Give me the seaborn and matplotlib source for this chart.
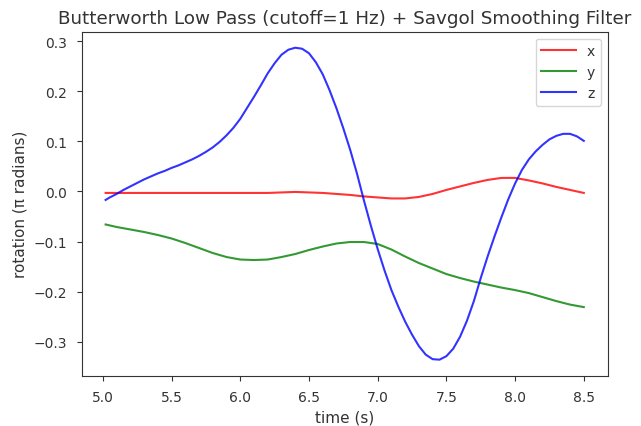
import numpy as np
import pandas as pd
import matplotlib
matplotlib.use("Agg")
import matplotlib.pyplot as plt
import seaborn as sns

time_xy = [5.02, 5.1, 5.2, 5.3, 5.4, 5.5, 5.6, 5.7, 5.8, 5.9,
           6.0, 6.1, 6.2, 6.3, 6.4, 6.5, 6.6, 6.7, 6.8, 6.9,
           7.0, 7.1, 7.2, 7.3, 7.4, 7.5, 7.6, 7.7, 7.8, 7.9,
           8.0, 8.1, 8.2, 8.3, 8.4, 8.5]

rot_x = [-0.003, -0.003, -0.003, -0.003, -0.003, -0.003, -0.003, -0.003, -0.003, -0.003,
         -0.003, -0.003, -0.003, -0.002, -0.001, -0.002, -0.003, -0.005, -0.007, -0.010,
         -0.012, -0.014, -0.014, -0.011, -0.005, 0.003, 0.010, 0.017, 0.023, 0.027,
         0.027, 0.022, 0.016, 0.009, 0.003, -0.003]

rot_y = [-0.066, -0.071, -0.076, -0.081, -0.087, -0.094, -0.103, -0.113, -0.123, -0.131,
         -0.136, -0.137, -0.136, -0.131, -0.125, -0.117, -0.110, -0.104, -0.101, -0.101,
         -0.105, -0.116, -0.130, -0.143, -0.154, -0.165, -0.173, -0.180, -0.186, -0.192,
         -0.197, -0.203, -0.211, -0.219, -0.226, -0.231]

time_z = [5.02, 5.05, 5.1, 5.15, 5.2, 5.25, 5.3, 5.35, 5.4, 5.45,
          5.5, 5.55, 5.6, 5.65, 5.7, 5.75, 5.8, 5.85, 5.9, 5.95,
          6.0, 6.05, 6.1, 6.15, 6.2, 6.25, 6.3, 6.35, 6.4, 6.45,
          6.5, 6.55, 6.6, 6.65, 6.7, 6.75, 6.8, 6.85, 6.9, 6.95,
          7.0, 7.05, 7.1, 7.15, 7.2, 7.25, 7.3, 7.35, 7.4, 7.45,
          7.5, 7.55, 7.6, 7.65, 7.7, 7.75, 7.8, 7.85, 7.9, 7.95,
          8.0, 8.05, 8.1, 8.15, 8.2, 8.25, 8.3, 8.35, 8.4, 8.45, 8.5]

rot_z = [-0.017, -0.012, -0.005, 0.003, 0.010, 0.017, 0.024, 0.030, 0.036, 0.041,
         0.047, 0.052, 0.058, 0.064, 0.071, 0.079, 0.088, 0.099, 0.112, 0.127,
         0.145, 0.167, 0.189, 0.212, 0.236, 0.256, 0.273, 0.283, 0.287, 0.285,
         0.276, 0.258, 0.234, 0.202, 0.166, 0.126, 0.083, 0.035, -0.018, -0.068,
         -0.115, -0.158, -0.197, -0.230, -0.260, -0.286, -0.309, -0.326, -0.335, -0.336,
         -0.329, -0.314, -0.290, -0.258, -0.219, -0.173, -0.130, -0.090, -0.052, -0.016,
         0.016, 0.043, 0.064, 0.080, 0.093, 0.104, 0.111, 0.115, 0.115, 0.110, 0.101]

labels = ["x", "y", "z"]
colors = {"x": "red", "y": "green", "z": "blue"}

df = pd.concat([
    pd.DataFrame({"time": t, "rotation": vals, "axis": lab})
    for lab, t, vals in zip(labels, [time_xy, time_xy, time_z], [rot_x, rot_y, rot_z])
], ignore_index=True)

plt.rcParams.update({
    "font.family": ["DejaVu Sans"],
    "font.size": 11,
    "axes.edgecolor": "#333333",
    "text.color": "#333333",
    "axes.labelcolor": "#333333",
    "xtick.color": "#333333",
    "ytick.color": "#333333",
    "xtick.labelsize": 10,
    "ytick.labelsize": 10,
    "xtick.major.pad": 6.5,
    "ytick.major.pad": 7.0,
})

fig = plt.figure(figsize=(6.41, 4.27), dpi=100)
ax = fig.add_axes([81.7 / 641, 1 - 376.7 / 427, (607.7 - 81.7) / 641, (376.7 - 32.7) / 427])

sns.lineplot(data=df, x="time", y="rotation", hue="axis", palette=colors,
             alpha=0.8, linewidth=1.5, ax=ax, sort=False, estimator=None)

ax.set_title("Butterworth Low Pass (cutoff=1 Hz) + Savgol Smoothing Filter", fontsize=13.2)
ax.set_xlabel("time (s)")
ax.set_ylabel("rotation (π radians)")
ax.set_xticks([5.0, 5.5, 6.0, 6.5, 7.0, 7.5, 8.0, 8.5])
ax.set_yticks([-0.3, -0.2, -0.1, 0.0, 0.1, 0.2, 0.3])
ax.set_xlim(4.846, 8.674)
ax.set_ylim(-0.368, 0.319)
ax.legend(loc="upper right", title=None, fontsize=10, handlelength=2.5)

fig.savefig("out.png", dpi=100)
